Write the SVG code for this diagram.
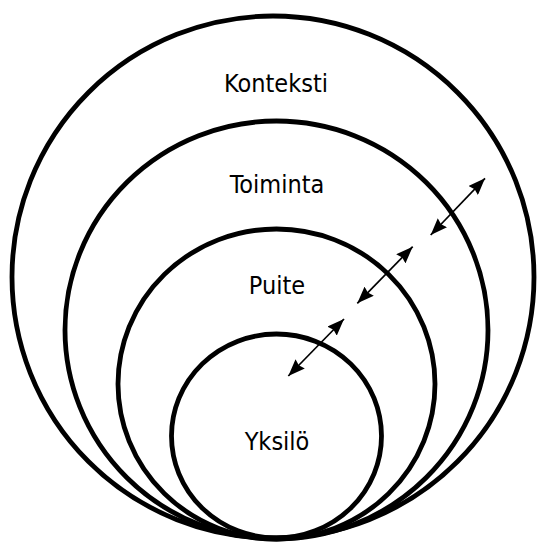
<svg xmlns="http://www.w3.org/2000/svg" width="537" height="542" viewBox="0 0 537 542">
<style>
.ring{fill:none;stroke:#000;stroke-width:4.8}
.lbl{font-family:"DejaVu Sans Condensed","DejaVu Sans",sans-serif;font-stretch:condensed;font-size:25px;fill:#000;text-anchor:middle}
.arr{fill:none;stroke:#000;stroke-width:1.7;marker-start:url(#ah);marker-end:url(#ah)}
</style>
<defs>
<marker id="ah" viewBox="0 0 17 13" refX="17" refY="6.5" markerWidth="17" markerHeight="13" markerUnits="userSpaceOnUse" orient="auto-start-reverse">
<path d="M0,0 L17,6.5 L0,13 L2,6.5 z" fill="#000"/>
</marker>
</defs>
<rect width="537" height="542" fill="#fff"/>
<g id="konteksti">
<ellipse class="ring" cx="273" cy="277" rx="261" ry="261"/>
<text class="lbl" x="276" y="92">Konteksti</text>
</g>
<g id="toiminta">
<ellipse class="ring" cx="276.5" cy="330" rx="211.5" ry="209"/>
<text class="lbl" x="277" y="193">Toiminta</text>
</g>
<g id="puite">
<ellipse class="ring" cx="276.5" cy="384" rx="158.5" ry="155"/>
<text class="lbl" x="277" y="294">Puite</text>
</g>
<g id="yksilo">
<ellipse class="ring" cx="276.5" cy="436" rx="105" ry="102"/>
<text class="lbl" x="277" y="450">Yksilö</text>
</g>
<g id="connectors">
<path class="arr" d="M430.7,235 L485,178.3"/>
<path class="arr" d="M357.3,303.3 L412.7,246.7"/>
<path class="arr" d="M288.3,376 L344,319"/>
</g>
</svg>
